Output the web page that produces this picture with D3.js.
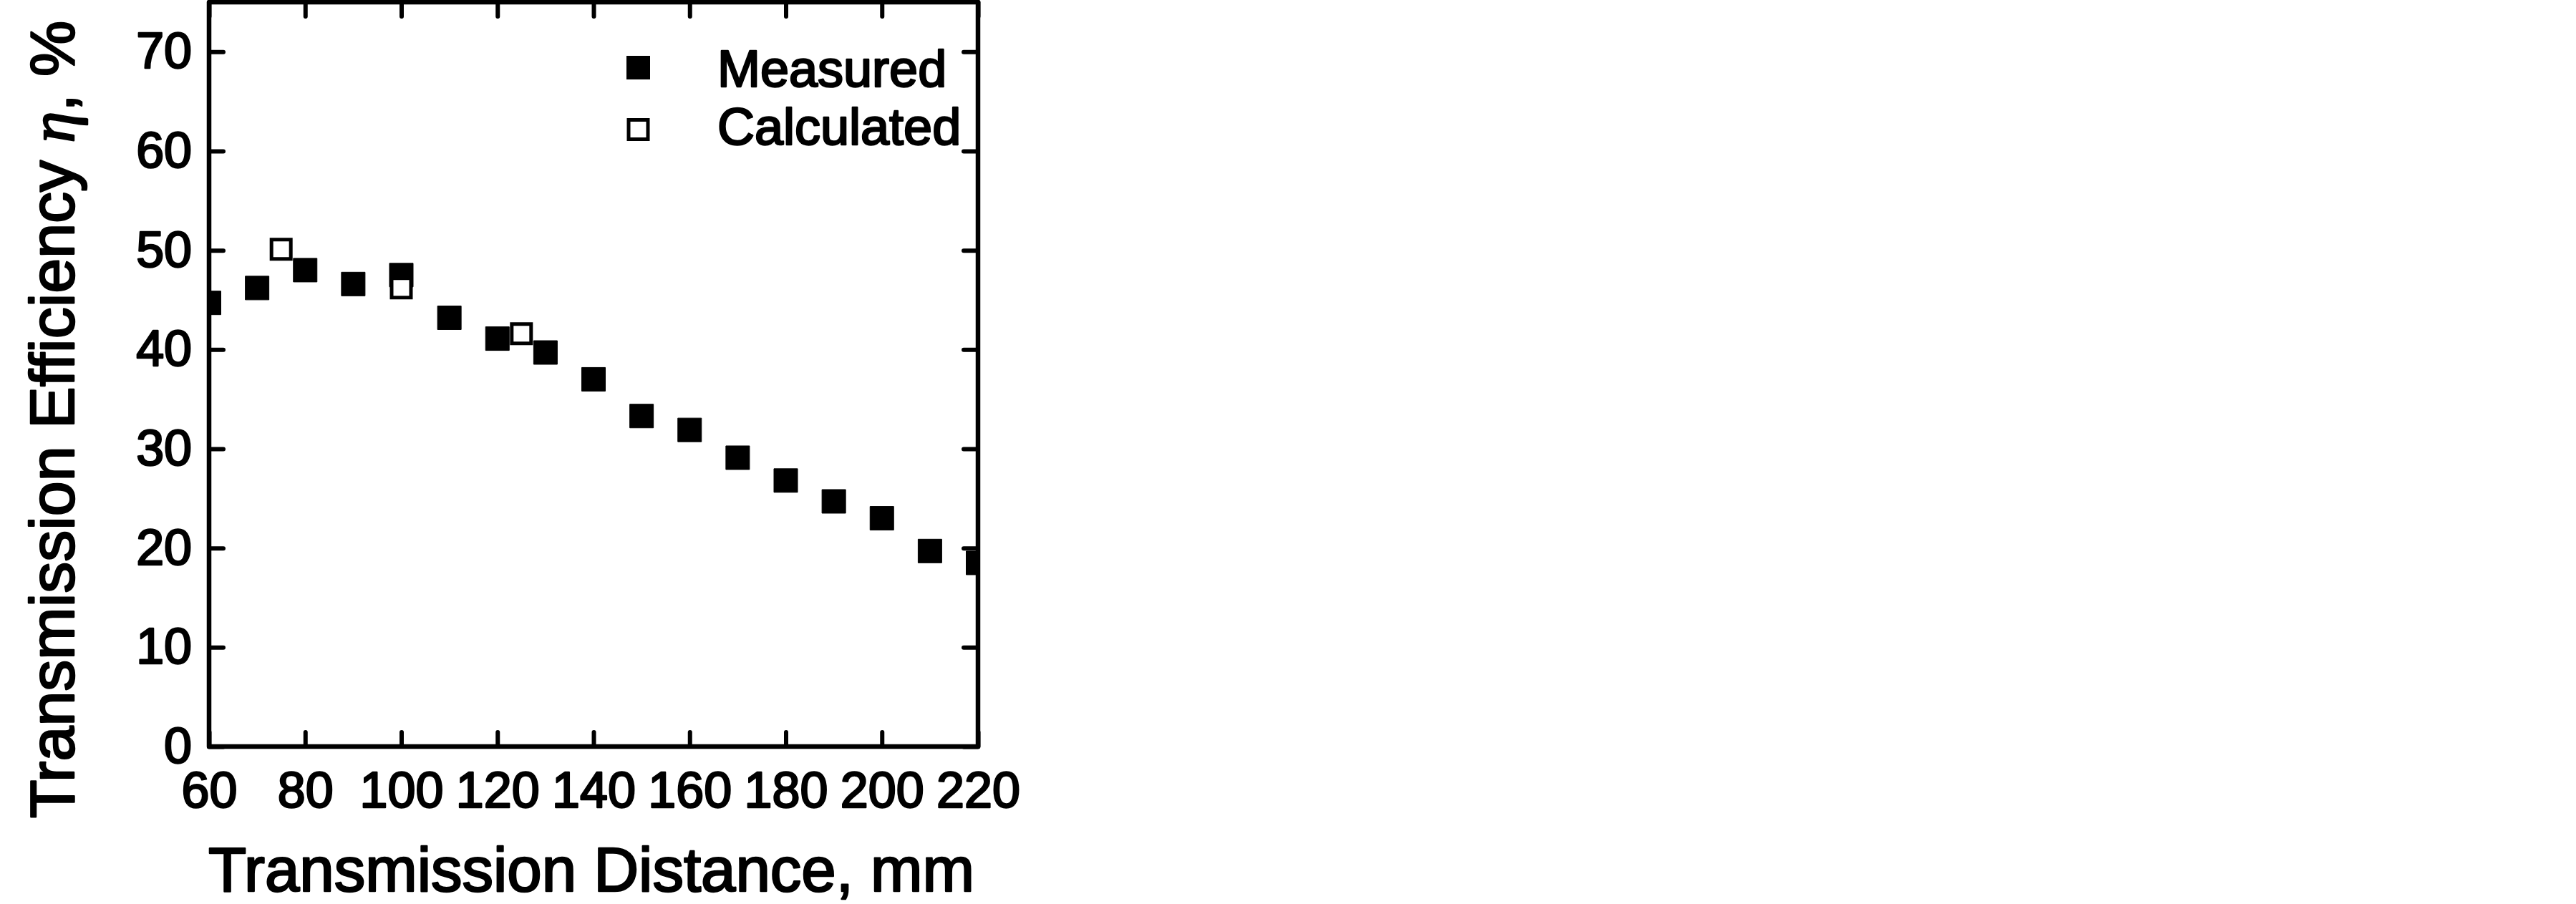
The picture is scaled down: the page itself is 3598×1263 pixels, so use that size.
<!DOCTYPE html>
<html>
<head>
<meta charset="utf-8">
<script src="https://cdn.jsdelivr.net/npm/d3@7"></script>
<style>
  html, body { margin: 0; padding: 0; background: #fff; }
  svg { display: block; font-family: "Liberation Sans", Arial, sans-serif; }
  svg text { stroke: #000; stroke-width: 2.5px; stroke-linejoin: round; fill: #000; }
</style>
</head>
<body>
<svg id="chart" width="3598" height="1263"></svg>
<script>
// values
const measuredDist = [60, 70, 80, 90, 100, 110, 120, 130, 140, 150, 160, 170, 180, 190, 200, 210, 220];
const measuredEff = [44.7, 46.2, 48.0, 46.6, 47.5, 43.2, 41.1, 39.7, 37.0, 33.3, 31.9, 29.1, 26.8, 24.7, 23.0, 19.7, 18.5];
const calcDist = [75, 100, 125];
const calcEff = [50.1, 46.2, 41.6];
const xTicks = [60, 80, 100, 120, 140, 160, 180, 200, 220];
const yTicks = [0, 10, 20, 30, 40, 50, 60, 70];
const legendLabels = ["Measured", "Calculated"];

const measured = measuredDist.map((d, i) => ({ x: d, y: measuredEff[i] }));
const calculated = calcDist.map((d, i) => ({ x: d, y: calcEff[i] }));

const svg = d3.select("#chart");
const margin = { top: 3, left: 292, right: 3598 - 1366, bottom: 1263 - 1043 };
const W = +svg.attr("width"), H = +svg.attr("height");
const width = W - margin.left - margin.right;
const height = H - margin.top - margin.bottom;

svg.append("rect").attr("width", W).attr("height", H).attr("fill", "#fff");

const x = d3.scaleLinear().domain([60, 220]).range([0, width]);
const y = d3.scaleLinear().domain([0, 75]).range([height, 0]);

const g = svg.append("g").attr("transform", `translate(${margin.left},${margin.top})`);

g.append("clipPath").attr("id", "plotClip")
  .append("rect").attr("width", width).attr("height", height);

const tickLen = 20;
const fontSize = 70;

function styleAxis(sel) {
  sel.select(".domain").remove();
  sel.selectAll(".tick line")
    .attr("stroke", "#000")
    .attr("stroke-width", 6)
    .attr("stroke-linecap", "round");
  sel.selectAll(".tick text")
    .attr("fill", "#000")
    .style("font-size", fontSize + "px")
    .style("font-family", "'Liberation Sans', Arial, sans-serif");
}

g.append("g")
  .attr("transform", `translate(0,${height})`)
  .call(d3.axisBottom(x).tickValues(xTicks).tickSizeInner(-tickLen).tickSizeOuter(0).tickPadding(35))
  .call(styleAxis);

g.append("g")
  .call(d3.axisTop(x).tickValues(xTicks).tickSizeInner(-tickLen).tickSizeOuter(0).tickFormat(""))
  .call(styleAxis);

g.append("g")
  .call(d3.axisLeft(y).tickValues(yTicks).tickSizeInner(-tickLen).tickSizeOuter(0).tickPadding(24))
  .call(styleAxis);

g.append("g")
  .attr("transform", `translate(${width},0)`)
  .call(d3.axisRight(y).tickValues(yTicks).tickSizeInner(-tickLen).tickSizeOuter(0).tickFormat(""))
  .call(styleAxis);

// frame
g.append("rect")
  .attr("x", x(60)).attr("y", y(75))
  .attr("width", x(220) - x(60)).attr("height", y(0) - y(75))
  .attr("fill", "none")
  .attr("stroke", "#000")
  .attr("stroke-width", 6.5)
  .attr("stroke-linejoin", "round");

// markers
const filledSym = d3.symbol().type(d3.symbolSquare).size(33 * 33);
const openSym = d3.symbol().type(d3.symbolSquare).size(27 * 27);

const plot = g.append("g").attr("clip-path", "url(#plotClip)");

plot.selectAll(".meas")
  .data(measured)
  .enter()
  .append("path")
  .attr("class", "meas")
  .attr("transform", d => `translate(${x(d.x)},${y(d.y)})`)
  .attr("d", filledSym)
  .attr("fill", "#000")
  .attr("stroke", "#000")
  .attr("stroke-width", 1)
  .attr("stroke-linejoin", "round");

plot.selectAll(".calc")
  .data(calculated)
  .enter()
  .append("path")
  .attr("class", "calc")
  .attr("transform", d => `translate(${x(d.x)},${y(d.y)})`)
  .attr("d", openSym)
  .attr("fill", "#fff")
  .attr("stroke", "#000")
  .attr("stroke-width", 5);

// legend
const legend = svg.append("g");
const legendY = [94.5, 181];
legend.append("path")
  .attr("transform", `translate(891.5,${legendY[0]})`)
  .attr("d", filledSym)
  .attr("fill", "#000");
legend.append("path")
  .attr("transform", `translate(891.5,${legendY[1]})`)
  .attr("d", openSym)
  .attr("fill", "#fff")
  .attr("stroke", "#000")
  .attr("stroke-width", 5);
legend.selectAll("text")
  .data(legendLabels)
  .enter()
  .append("text")
  .attr("x", 1002)
  .attr("y", (d, i) => [121, 202][i])
  .style("font-size", "72px")
  .text(d => d);

// axis titles
svg.append("text")
  .attr("x", (287 + 1365) / 2)
  .attr("y", 1245)
  .attr("text-anchor", "middle")
  .style("font-size", "87px")
  .text("Transmission Distance, mm");

const yTitle = svg.append("text")
  .attr("transform", "translate(103,586) rotate(-90)")
  .attr("text-anchor", "middle")
  .style("font-size", "88px");
yTitle.append("tspan").text("Transmission Efficiency ");
yTitle.append("tspan")
  .style("font-family", "'Liberation Serif', 'Times New Roman', serif")
  .style("font-style", "italic")
  .text("η");
yTitle.append("tspan").text(", %");
</script>
</body>
</html>
